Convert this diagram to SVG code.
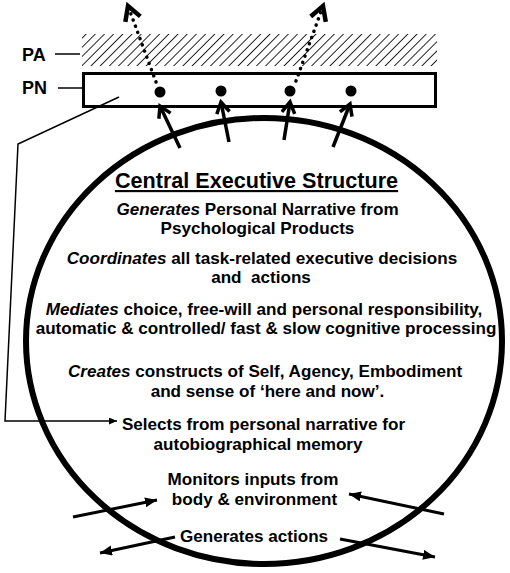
<svg xmlns="http://www.w3.org/2000/svg" width="510" height="573" viewBox="0 0 510 573">
<style>
text{font-family:"Liberation Sans",Arial,sans-serif;font-weight:bold;fill:#000}
.b{font-size:17.1px;text-anchor:middle}
.i{font-style:italic}
.lbl{font-size:18px}
.thin{stroke:#000;stroke-width:1.5;fill:none}
.up{stroke:#000;stroke-width:3.5;fill:none}
.dot{stroke:#000;stroke-width:3.5;fill:none;stroke-dasharray:0.1 6.5;stroke-linecap:round}
.io{stroke:#000;stroke-width:3;fill:none}
</style>
<defs>
<pattern id="hatch" patternUnits="userSpaceOnUse" width="6.5" height="6.5" patternTransform="rotate(45)">
<line x1="0" y1="0" x2="0" y2="6.5" stroke="#000" stroke-width="1.7"/>
</pattern>
<marker id="openV" markerUnits="userSpaceOnUse" markerWidth="20" markerHeight="20" refX="14" refY="8" orient="auto">
<path d="M3,1.5 L14,8 L3,14.5" fill="none" stroke="#000" stroke-width="3.5"/>
</marker>
<marker id="openVL" markerUnits="userSpaceOnUse" markerWidth="24" markerHeight="24" refX="18" refY="11" orient="auto">
<path d="M4,3 L18,11 L4,19" fill="none" stroke="#000" stroke-width="4.5"/>
</marker>
<marker id="tri" markerUnits="userSpaceOnUse" markerWidth="14" markerHeight="12" refX="12" refY="5" orient="auto">
<path d="M0,0 L12,5 L0,10 Z" fill="#000"/>
</marker>
<marker id="triS" markerUnits="userSpaceOnUse" markerWidth="10" markerHeight="8" refX="8" refY="3.5" orient="auto">
<path d="M0,0 L8,3.5 L0,7 Z" fill="#000"/>
</marker>
</defs>

<g id="PA">
<rect x="82" y="34" width="355" height="32" fill="url(#hatch)"/>
<text class="lbl" x="22" y="61">PA</text>
<line class="thin" x1="55" y1="54" x2="80" y2="54"/>
</g>

<g id="PN">
<rect x="83.5" y="73.5" width="352" height="33" fill="#fff" stroke="#000" stroke-width="3"/>
<text class="lbl" x="22" y="94">PN</text>
<line class="thin" x1="58" y1="88" x2="82" y2="88"/>
<circle cx="160" cy="92" r="5.5"/>
<circle cx="221" cy="91" r="5.5"/>
<circle cx="290" cy="91" r="5.5"/>
<circle cx="351" cy="91" r="5.5"/>
</g>

<g id="CES">
<ellipse cx="264" cy="341" rx="238" ry="223" fill="none" stroke="#000" stroke-width="6"/>
<text x="256.5" y="188" style="font-size:21.6px;text-anchor:middle;text-decoration:underline">Central Executive Structure</text>
<text class="b" x="257.5" y="215"><tspan class="i">Generates</tspan> Personal Narrative from</text>
<text class="b" x="257.5" y="234">Psychological Products</text>
<text class="b" x="262" y="264"><tspan class="i">Coordinates</tspan> all task-related executive decisions</text>
<text class="b" x="261" y="283" xml:space="preserve">and  actions</text>
<text class="b" x="264" y="315"><tspan class="i">Mediates</tspan> choice, free-will and personal responsibility,</text>
<text class="b" x="266" y="334">automatic &amp; controlled/ fast &amp; slow cognitive processing</text>
<text class="b" x="265" y="377"><tspan class="i">Creates</tspan> constructs of Self, Agency, Embodiment</text>
<text class="b" x="267.5" y="397">and sense of ‘here and now’.</text>
<text class="b" x="263.5" y="430">Selects from personal narrative for</text>
<text class="b" x="258" y="450">autobiographical memory</text>
<text class="b" x="253" y="485">Monitors inputs from</text>
<text class="b" x="254.5" y="505">body &amp; environment</text>
<text class="b" x="254" y="542">Generates actions</text>
</g>

<g id="connectors">
<line class="up" x1="180" y1="148" x2="160" y2="106" marker-end="url(#openV)"/>
<line class="up" x1="229" y1="142" x2="221" y2="102" marker-end="url(#openV)"/>
<line class="up" x1="284" y1="140" x2="290" y2="102" marker-end="url(#openV)"/>
<line class="up" x1="333" y1="147" x2="350" y2="104" marker-end="url(#openV)"/>
<line class="dot" x1="156" y1="82" x2="128" y2="6" marker-end="url(#openVL)"/>
<line class="dot" x1="296" y1="81" x2="323" y2="6" marker-end="url(#openVL)"/>
<polyline class="thin" points="119,97 18,144 5,421 117,421" marker-end="url(#triS)"/>
<line class="io" x1="73" y1="517" x2="157" y2="500" marker-end="url(#tri)"/>
<line class="io" x1="444" y1="514" x2="349" y2="494" marker-end="url(#tri)"/>
<line class="io" x1="175" y1="537" x2="100" y2="553" marker-end="url(#tri)"/>
<line class="io" x1="340" y1="539" x2="435" y2="557" marker-end="url(#tri)"/>
</g>
</svg>
